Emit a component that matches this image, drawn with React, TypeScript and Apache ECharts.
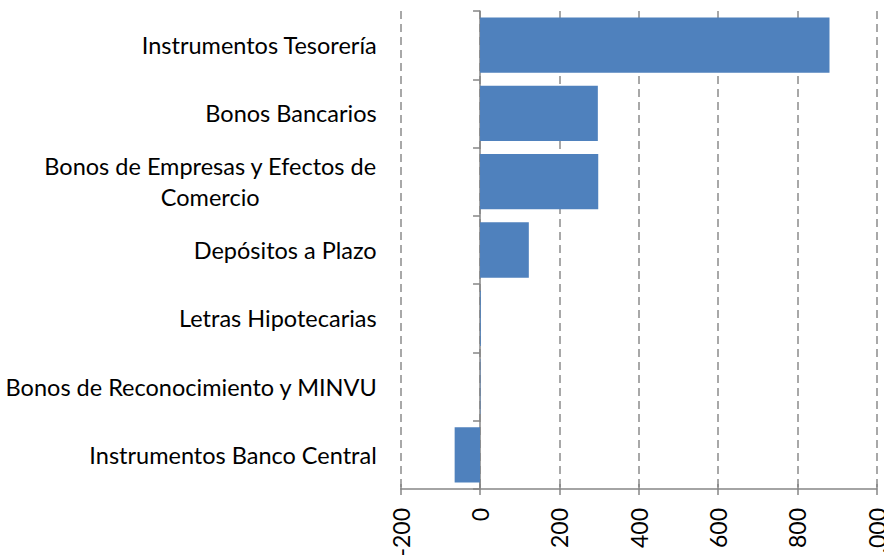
import React, { useEffect, useRef } from "react";
import * as echarts from "echarts";

const categories = [
  "Instrumentos Tesorería",
  "Bonos Bancarios",
  "Bonos de Empresas y Efectos de\nComercio",
  "Depósitos a Plazo",
  "Letras Hipotecarias",
  "Bonos de Reconocimiento y MINVU",
  "Instrumentos Banco Central",
];
const values = [881, 297, 298, 123, 2, 1, -64];
const axisMin = -200;
const axisMax = 1000;
const axisStep = 200;

const FONT = "Lato";
const FS = 23.5;

export default function App() {
  const ref = useRef<HTMLDivElement>(null);
  useEffect(() => {
    if (!ref.current) return;
    const chart = echarts.init(ref.current, undefined, { renderer: "svg" });
    const gray = "#868686";
    chart.setOption({
      animation: false,
      backgroundColor: "#ffffff",
      grid: {
        left: 400.7,
        right: 7.3,
        top: 11,
        bottom: 66,
        containLabel: false,
        outerBoundsMode: "none",
      },
      xAxis: [
        {
          type: "value",
          min: axisMin,
          max: axisMax,
          interval: axisStep,
          position: "bottom",
          axisLine: { show: true, lineStyle: { color: gray, width: 1.5 } },
          axisTick: { show: true, length: 6, lineStyle: { color: gray, width: 1.5 } },
          axisLabel: {
            rotate: 90,
            margin: 19,
            fontFamily: FONT,
            fontSize: 23,
            color: "#000",
          },
          splitLine: {
            show: true,
            lineStyle: { color: "#8c8c8c", width: 1.5, type: [8, 5] },
          },
        },
        {
          type: "value",
          min: axisMin,
          max: axisMax,
          interval: axisStep,
          position: "bottom",
          axisLine: { show: false },
          axisTick: { show: true, inside: true, length: 5, lineStyle: { color: gray, width: 1.5 } },
          axisLabel: { show: false },
          splitLine: { show: false },
        },
      ],
      yAxis: {
        type: "category",
        data: categories,
        inverse: true,
        axisLine: { show: true, onZero: true, lineStyle: { color: gray, width: 1.5 } },
        axisTick: { show: true, length: 7, lineStyle: { color: gray, width: 1.5 } },
        splitLine: { show: false },
        axisLabel: {
          margin: 24,
          fontFamily: FONT,
          fontSize: FS,
          color: "#000",
          lineHeight: 31,
          formatter: (v: string) =>
            v.indexOf("\n") >= 0
              ? v
                  .split("\n")
                  .map((s) => `{c|${s}}`)
                  .join("\n")
              : v,
          rich: {
            c: {
              align: "center",
              fontFamily: FONT,
              fontSize: FS,
              color: "#000",
              lineHeight: 31,
            },
          },
        },
      },
      series: [
        {
          type: "bar",
          data: values,
          xAxisIndex: 0,
          barCategoryGap: "19%",
          itemStyle: { color: "#4F81BD" },
        },
      ],
    });
    return () => chart.dispose();
  }, []);
  return (
    <div
      ref={ref}
      style={{ position: "fixed", left: 0, top: 0, width: 884, height: 555 }}
    />
  );
}
